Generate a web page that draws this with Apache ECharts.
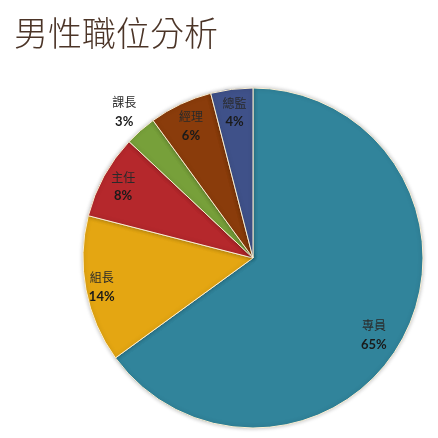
<!DOCTYPE html>
<html>
<head>
<meta charset="utf-8">
<script src="https://cdn.jsdelivr.net/npm/echarts@6/dist/echarts.min.js"></script>
<style>
  html, body { margin: 0; padding: 0; background: #fff; }
  #chart { width: 438px; height: 438px; }
</style>
</head>
<body>
<div id="chart"></div>
<script>
// 男性職位分析 - share of each position
const categories = ['專員', '組長', '主任', '課長', '經理', '總監'];
const values = [65, 14, 8, 3, 6, 4];

const colors = ['#31849b', '#e4a612', '#b5282c', '#77a03a', '#8a3c0b', '#3f5189'];
// label distance from centre (fraction of radius) and turn off the mid-angle (degrees, clockwise)
const labelDist = [0.82, 0.88, 0.845, 1.11, 0.83, 0.835];
const labelTurn = [5.5, 0, 0, 0, 0, 0];

const cx = 253;
const cy = 258;
const radius = 170;

const chart = echarts.init(document.getElementById('chart'));

chart.setOption({
  animation: false,
  title: {
    text: '男性職位分析',
    left: 9,
    top: 11,
    textStyle: {
      fontFamily: 'Noto Sans CJK TC',
      fontSize: 34,
      fontWeight: 300,
      color: '#4b3427'
    }
  },
  series: [
    {
      type: 'pie',
      center: [cx, cy],
      radius: [0, radius],
      startAngle: 90,
      clockwise: true,
      avoidLabelOverlap: false,
      data: categories.map((name, i) => ({
        name,
        value: values[i],
        itemStyle: { color: colors[i] }
      })),
      itemStyle: {
        borderColor: '#fbefd2',
        borderWidth: 1,
        shadowColor: 'rgba(0,0,0,0.25)',
        shadowBlur: 4
      },
      label: {
        show: true,
        position: 'inside',
        formatter: p => `{n|${p.name}}\n{v|${p.value}%}`,
        rich: {
          n: {
            fontFamily: 'Noto Sans CJK TC',
            fontSize: 12,
            color: '#2a2a2a',
            lineHeight: 19
          },
          v: {
            fontFamily: 'Lato',
            fontSize: 13,
            fontWeight: 'bold',
            color: '#1a1a1a',
            lineHeight: 19
          }
        }
      },
      labelLine: { show: false },
      labelLayout: params => {
        const r = params.labelRect;
        const lx = r.x + r.width / 2;
        const ly = r.y + r.height / 2;
        const i = params.dataIndex;
        // the inside label sits at half the radius; push it out and turn it
        const ang = Math.atan2(ly - cy, lx - cx) + labelTurn[i] * Math.PI / 180;
        const d = labelDist[i] * radius * 1.03;
        return {
          dx: cx + d * Math.cos(ang) - lx,
          dy: cy + d * Math.sin(ang) - ly
        };
      }
    }
  ]
});
</script>
</body>
</html>
